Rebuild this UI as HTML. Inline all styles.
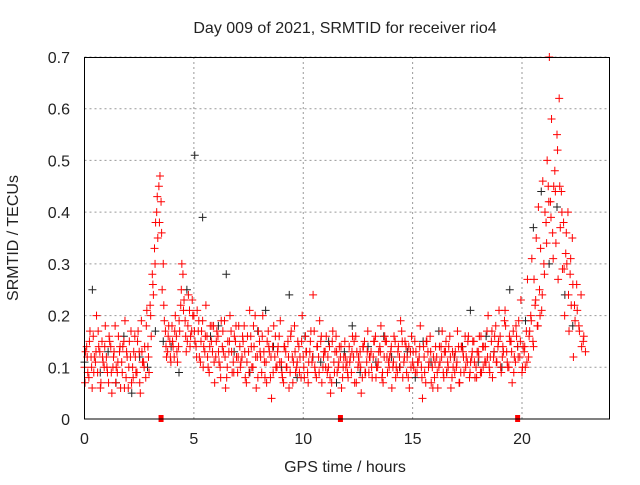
<!DOCTYPE html>
<html><head><meta charset="utf-8"><style>
body{margin:0;background:#fff}
svg text{font-family:"Liberation Sans",sans-serif;font-size:16px;fill:#222}
</style></head><body>
<svg width="640" height="480">
<g id="grid"></g>
<g id="marks"></g>
<rect x="84.5" y="57.5" width="525" height="361.5" fill="none" stroke="#000"/>
<g id="ticks"></g>
<text x="345" y="33" text-anchor="middle">Day 009 of 2021, SRMTID for receiver rio4</text>
<text x="345" y="472" text-anchor="middle">GPS time / hours</text>
<text transform="translate(18,238) rotate(-90)" text-anchor="middle">SRMTID / TECUs</text>
</svg>
<script>
const xTicks=[0,5,10,15,20];
const yTicks=[0,0.1,0.2,0.3,0.4,0.5,0.6,0.7];
const markerHours=[3.5,11.7,19.8];
const startHour=0, stepHour=0.1;
const redA=[.10,.14,.08,.12,.16,.11,.09,.13,.15,.10,.12,.07,.14,.10,.18,.09,.13,.11,.15,.08,.06,.12,.10,.16,.09,.13,.19,.11,.08,.14,.22,.28,.33,.40,.45,.42,.30,.17,.13,.15,.18,.12,.16,.14,.22,.28,.19,.15,.21,.17,.20,.14,.17,.11,.19,.13,.16,.09,.15,.18,.12,.16,.10,.14,.19,.08,.13,.17,.11,.15,.09,.14,.12,.18,.07,.13,.16,.10,.20,.12,.15,.09,.13,.11,.17,.08,.14,.12,.10,.16,.11,.07,.13,.15,.09,.12,.18,.10,.14,.08,.12,.16,.09,.13,.11,.17,.08,.12,.15,.10,.13,.09,.14,.07,.11,.16,.10,.12,.08,.15,.11,.14,.09,.12,.16,.10,.13,.08,.15,.11,.09,.13,.12,.16,.10,.14,.08,.12,.15,.11,.13,.10,.15,.09,.12,.17,.11,.14,.08,.13,.11,.15,.09,.12,.10,.14,.07,.13,.16,.10,.08,.12,.10,.14,.09,.13,.11,.16,.08,.12,.10,.14,.09,.13,.16,.11,.08,.12,.15,.10,.13,.09,.14,.11,.17,.10,.15,.12,.18,.14,.16,.12,.19,.13,.10,.15,.17,.11,.14,.12,.09,.13,.17,.12,.20,.15,.22,.18,.25,.21,.30,.38,.45,.42,.36,.48,.55,.62,.44,.38,.32,.40,.28,.35,.22,.26,.18,.24,.15,.13];
const redB=[.13,.09,.17,.06,.12,.20,.14,.07,.11,.18,.09,.15,.05,.13,.10,.16,.06,.14,.19,.12,.15,.07,.13,.09,.17,.05,.11,.14,.21,.09,.16,.24,.38,.35,.47,.25,.19,.12,.18,.11,.14,.20,.11,.17,.30,.23,.13,.24,.16,.20,.15,.21,.12,.17,.14,.22,.10,.18,.13,.07,.17,.11,.19,.13,.06,.15,.20,.09,.16,.12,.18,.11,.15,.08,.16,.21,.10,.14,.06,.17,.12,.20,.08,.15,.13,.04,.18,.10,.14,.19,.08,.14,.10,.06,.17,.11,.09,.15,.12,.20,.08,.13,.11,.17,.24,.09,.14,.19,.07,.13,.16,.10,.05,.17,.13,.09,.14,.06,.12,.10,.08,.12,.16,.07,.13,.11,.05,.14,.09,.17,.12,.08,.15,.10,.13,.18,.07,.15,.09,.12,.06,.16,.10,.14,.19,.08,.15,.12,.06,.16,.10,.13,.11,.18,.04,.09,.15,.11,.07,.12,.14,.06,.11,.17,.13,.09,.14,.06,.10,.13,.17,.07,.14,.09,.12,.16,.11,.15,.08,.13,.16,.09,.14,.11,.20,.12,.08,.16,.11,.21,.09,.13,.18,.10,.15,.07,.12,.16,.19,.23,.14,.10,.27,.17,.31,.27,.35,.41,.33,.46,.40,.50,.70,.58,.45,.34,.27,.37,.29,.20,.30,.17,.22,.12];
const redC=[.07,.12,.15,.10,.09,.13,.17,.06,.12,.14,.10,.16,.09,.12,.07,.11,.14,.09,.06,.13,.10,.17,.08,.12,.15,.07,.13,.10,.18,.12,.20,.26,.30,.43,.38,.36,.22,.14,.16,.12,.15,.17,.13,.19,.25,.21,.16,.18,.14,.23,.17,.12,.19,.15,.10,.16,.12,.14,.18,.11,.15,.13,.08,.17,.12,.10,.15,.13,.09,.18,.12,.10,.16,.13,.11,.09,.14,.18,.12,.08,.13,.16,.11,.07,.14,.12,.09,.16,.13,.11,.09,.14,.10,.12,.16,.07,.13,.11,.09,.15,.10,.13,.07,.15,.12,.10,.14,.09,.16,.12,.10,.12,.08,.15,.09,.13,.11,.14,.10,.12,.09,.11,.13,.15,.07,.12,.10,.14,.09,.13,.12,.10,.15,.08,.11,.13,.09,.16,.12,.10,.14,.11,.08,.13,.10,.15,.12,.09,.14,.10,.13,.09,.11,.14,.08,.12,.15,.10,.13,.06,.11,.09,.14,.12,.08,.15,.10,.12,.13,.09,.11,.07,.14,.12,.10,.15,.09,.13,.11,.08,.12,.16,.10,.14,.12,.09,.17,.13,.11,.15,.10,.14,.21,.11,.16,.13,.09,.18,.12,.15,.10,.14,.11,.16,.19,.14,.23,.18,.20,.24,.28,.34,.42,.39,.31,.44,.52,.45,.40,.29,.36,.24,.31,.26,.19,.21,.17,.14,.16];
const blackV=[.11,.25,.09,.13,.07,.16,.05,.12,.10,.17,.15,.14,.09,.25,.51,.39,.16,.18,.28,.13,.12,.09,.17,.21,.14,.10,.24,.08,.16,.12,.11,.15,.07,.13,.18,.09,.14,.11,.16,.12,.10,.13,.08,.15,.11,.17,.09,.12,.14,.21,.11,.16,.13,.10,.25,.14,.19,.37,.44,.30,.41,.24,.18];
const blackStep=0.36;
const X=h=>84.5+h*(525/24), Y=v=>419-v*(362/0.7);
const NS="http://www.w3.org/2000/svg";
const grid=document.getElementById('grid'),marks=document.getElementById('marks'),ticks=document.getElementById('ticks');
function mk(tag,a,p){const e=document.createElementNS(NS,tag);for(const k in a)e.setAttribute(k,a[k]);p.appendChild(e);return e;}
xTicks.forEach(t=>{
 if(t>0){const g=mk('line',{x1:X(t),x2:X(t),y1:57,y2:419,stroke:'#999','stroke-dasharray':'2,3'},grid);
 
 }
 const tx=mk('text',{x:X(t),y:444,'text-anchor':'middle'},ticks);tx.textContent=t;
 
 
});
yTicks.forEach(t=>{
 if(t>0){const g=mk('line',{x1:84.5,x2:609.5,y1:Y(t),y2:Y(t),stroke:'#999','stroke-dasharray':'2,3'},grid);
 
 }
 const tx=mk('text',{x:70,y:Y(t)+6,'text-anchor':'end'},ticks);tx.textContent=t===0?'0':t.toFixed(1);
 
 
});
function plus(h,v,c){const p=mk('path',{d:`M${X(h)-4},${Y(v)}h8M${X(h)},${Y(v)-4}v8`,stroke:c,'stroke-width':1},marks);
 
 }
blackV.forEach((v,i)=>plus(startHour+i*blackStep,v,'#222'));
redA.forEach((v,i)=>plus(startHour+i*stepHour,v,'#f00'));
redB.forEach((v,i)=>plus(startHour+i*stepHour+0.05,v,'#f00'));
redC.forEach((v,i)=>plus(startHour+i*stepHour+0.025,v,'#f00'));
markerHours.forEach(h=>{const r=mk('rect',{x:X(h)-2.5,y:415,width:5,height:7,fill:'#f00'},marks);
 
 });
</script>
</body></html>
